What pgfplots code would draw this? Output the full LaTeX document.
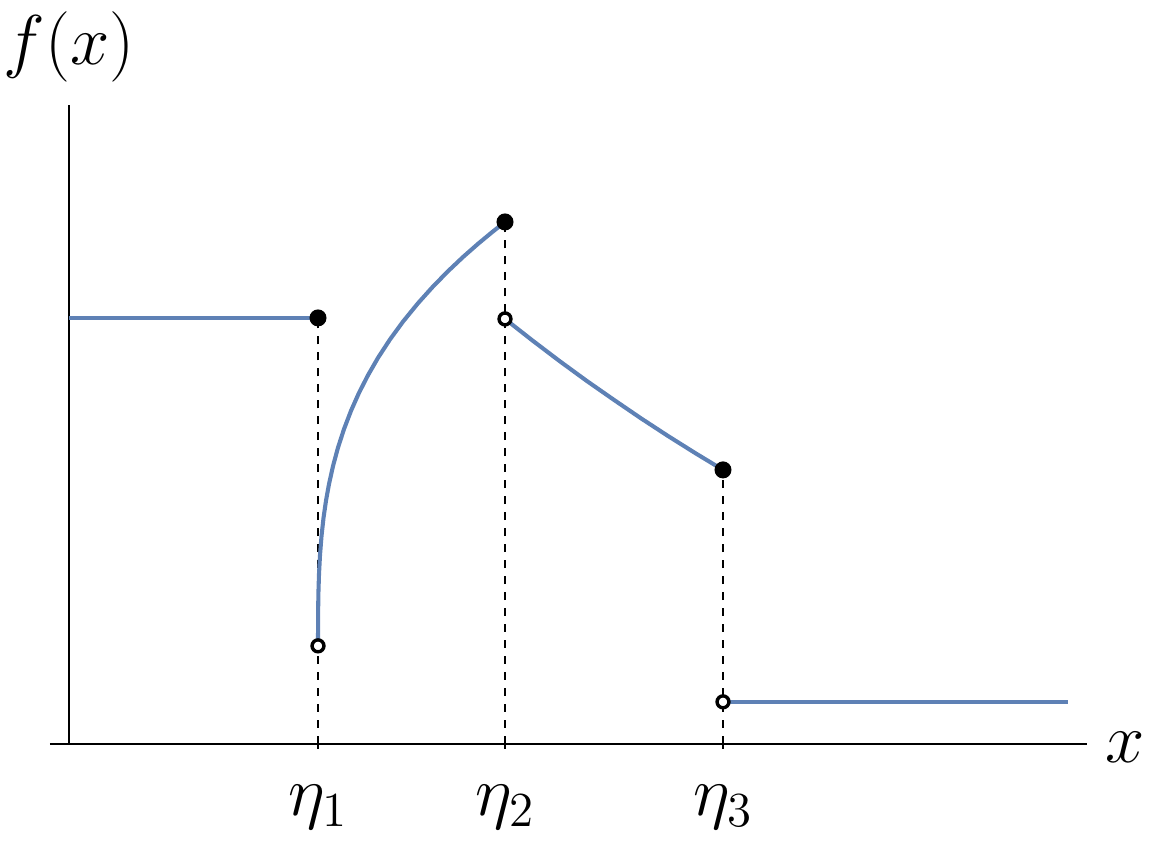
\documentclass[border=0pt]{standalone}
\usepackage{pgfplots}
\pgfplotsset{compat=1.18}
\definecolor{mblue}{RGB}{94,129,181}
\begin{document}
\begin{tikzpicture}
\begin{axis}[
  scale only axis, width=305pt, height=187.9pt,
  xmin=-0.19, xmax=10.18, ymin=0, ymax=6.39,
  axis lines=middle,
  axis line style={-, line width=0.4pt, black},
  xtick={2.49,4.36,6.54}, xticklabels={$\eta_1$,$\eta_2$,$\eta_3$},
  ytick=\empty,
  major tick length=3pt, tick align=center,
  tick style={black, line width=0.4pt},
  xticklabel style={font=\huge, anchor=base, inner sep=0pt, yshift=-19.7pt},
  clip=false,
]
% dashed guides
\addplot[black, line width=0.65pt, dash pattern=on 2.35pt off 2.35pt] coordinates {(2.49,0) (2.49,4.26)};
\addplot[black, line width=0.65pt, dash pattern=on 2.35pt off 2.35pt] coordinates {(4.36,0) (4.36,5.22)};
\addplot[black, line width=0.65pt, dash pattern=on 2.35pt off 2.35pt] coordinates {(6.54,0) (6.54,2.74)};
% function pieces
\addplot[mblue, line width=1.2pt] coordinates {(0,4.26) (2.49,4.26)};
\addplot[mblue, line width=1.2pt, line join=round] coordinates {
(2.490,0.980) (2.491,1.307) (2.494,1.504) (2.500,1.696) (2.510,1.886)
(2.525,2.076) (2.545,2.259) (2.570,2.432) (2.600,2.598) (2.640,2.778)
(2.690,2.963) (2.750,3.148) (2.820,3.331) (2.900,3.511) (2.990,3.687)
(3.090,3.861) (3.210,4.045) (3.340,4.223) (3.490,4.407) (3.640,4.574)
(3.790,4.727) (3.940,4.869) (4.090,5.001) (4.230,5.117) (4.360,5.220)};
\addplot[mblue, line width=1.2pt, line join=round] coordinates {
(4.36,4.25) (4.6325,4.036) (4.905,3.829) (5.1775,3.63) (5.45,3.44)
(5.7225,3.254) (5.995,3.076) (6.2675,2.905) (6.54,2.74)};
\addplot[mblue, line width=1.2pt] coordinates {(6.54,0.42) (9.99,0.42)};
% filled dots
\addplot[only marks, mark=*, mark size=2.3pt, black, mark options={fill=black}]
  coordinates {(2.49,4.26) (4.36,5.22) (6.54,2.74)};
% open dots
\addplot[only marks, mark=*, mark size=1.75pt, mark options={fill=white, draw=black, line width=1pt}]
  coordinates {(2.49,0.98) (4.36,4.25) (6.54,0.42)};
\node[font=\huge, inner sep=0pt] at (axis cs:10.56,-0.03) {$x$};
\node[font=\huge, inner sep=0pt] at (axis cs:0,6.97) {$f(x)$};
\path (axis cs:-0.69,-1.02) rectangle (axis cs:10.83,7.44);
\end{axis}
\end{tikzpicture}
\end{document}
